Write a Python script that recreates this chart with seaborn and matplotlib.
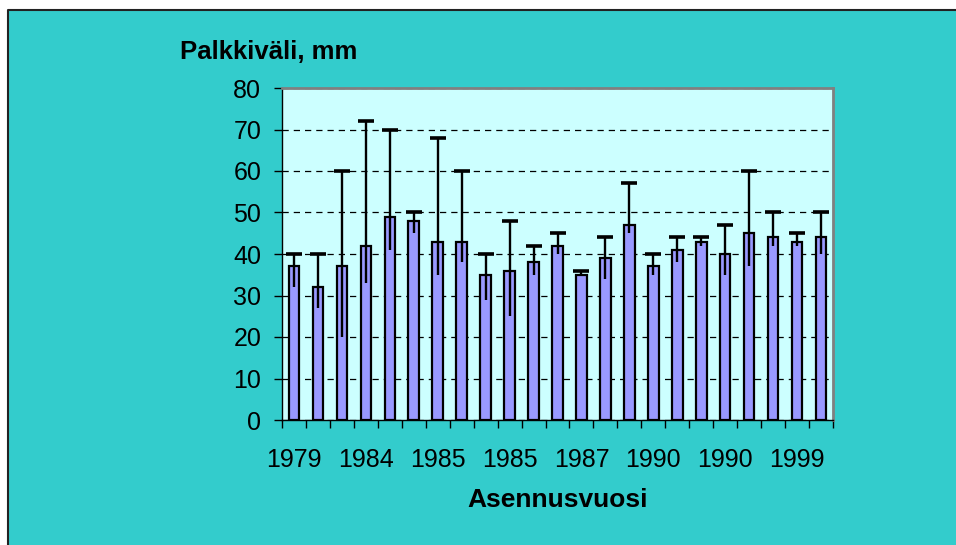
import numpy as np
import pandas as pd
import seaborn as sns
import matplotlib.pyplot as plt
from matplotlib.patches import Rectangle
from matplotlib.lines import Line2D

# Palkkiväli (mm) asennusvuoden mukaan
keskiarvo = [37, 32, 37, 42, 49, 48, 43, 43, 35, 36, 38, 42,
             35, 39, 47, 37, 41, 43, 40, 45, 44, 43, 44]
maksimi = [40, 40, 60, 72, 70, 50, 68, 60, 40, 48, 42, 45,
           36, 44, 57, 40, 44, 44, 47, 60, 50, 45, 50]
minimi = [32, 27, 20, 33, 41, 45, 35, 38, 29, 25, 35, 40,
          35, 34, 45, 35, 38, 42, 35, 37, 42, 42, 40]
vuodet = ["1979", "1984", "1985", "1985", "1987", "1990", "1990", "1999"]

df = pd.DataFrame({"nro": range(len(keskiarvo)), "ka": keskiarvo,
                   "max": maksimi, "min": minimi})

sns.set_style("white", {"text.color": "black", "axes.labelcolor": "black",
                        "xtick.color": "black", "ytick.color": "black"})
plt.rcParams["font.family"] = ["Liberation Sans", "DejaVu Sans"]

fig = plt.figure(figsize=(9.56, 5.45), dpi=100)
fig.patch.set_facecolor("white")
# taustalaatikko
fig.patches.append(Rectangle((8 / 956, 0), 1, 1 - 10 / 545, transform=fig.transFigure,
                             facecolor="#33CCCC", edgecolor="none", zorder=-10))
fig.lines.append(Line2D([8 / 956, 8 / 956, 1], [0, 1 - 10 / 545, 1 - 10 / 545],
                        transform=fig.transFigure, color="#222222", lw=1.5,
                        zorder=-9))

ax = fig.add_axes([282 / 956, 1 - 420 / 545, 551 / 956, 332 / 545])
ax.set_zorder(2)
ax.set_facecolor("#CCFFFF")

sns.barplot(data=df, x="nro", y="ka", color="#9999FF", saturation=1,
            edgecolor="black", linewidth=1.6, width=0.44, ax=ax, zorder=3)

x = np.arange(len(df))
ax.errorbar(x, df["ka"], yerr=[df["ka"] - df["min"], df["max"] - df["ka"]],
            fmt="none", ecolor="black", elinewidth=1.7, capsize=0, zorder=4)
ax.plot(x, df["max"], ls="none", marker="_", markersize=11, mew=2.6,
        color="black", zorder=4)

ax.set_ylim(0, 80)
ax.set_xlim(-0.5, len(df) - 0.5)
ax.set_yticks(range(0, 81, 10))
ax.yaxis.grid(True, color="black", linestyle=(0, (5, 4)), linewidth=0.9)
ax.set_axisbelow(True)

ax.set_xticks(x[::3])
ax.set_xticklabels(vuodet)
ax.set_xticks(np.arange(-0.5, len(df)), minor=True)
ax.tick_params(axis="x", which="major", length=0, pad=20, labelsize=18)
ax.tick_params(axis="x", which="minor", length=6, width=1, color="black",
               direction="out", bottom=True)
ax.tick_params(axis="y", length=6, width=1, color="black", direction="out",
               left=True, pad=9, labelsize=18)

for s in ["left", "bottom"]:
    ax.spines[s].set_color("black")
    ax.spines[s].set_linewidth(1)
for s in ["top", "right"]:
    ax.spines[s].set_color("#808080")
    ax.spines[s].set_linewidth(2)

ax.set_xlabel("Asennusvuosi", fontsize=19, fontweight="bold", labelpad=12,
              color="black")
ax.set_ylabel("")
fig.text(180 / 956, 1 - 52 / 545, "Palkkiväli, mm", fontsize=18.5,
         fontweight="bold", va="center", ha="left", color="black")

fig.savefig("out.png", dpi=100, facecolor=fig.get_facecolor())
